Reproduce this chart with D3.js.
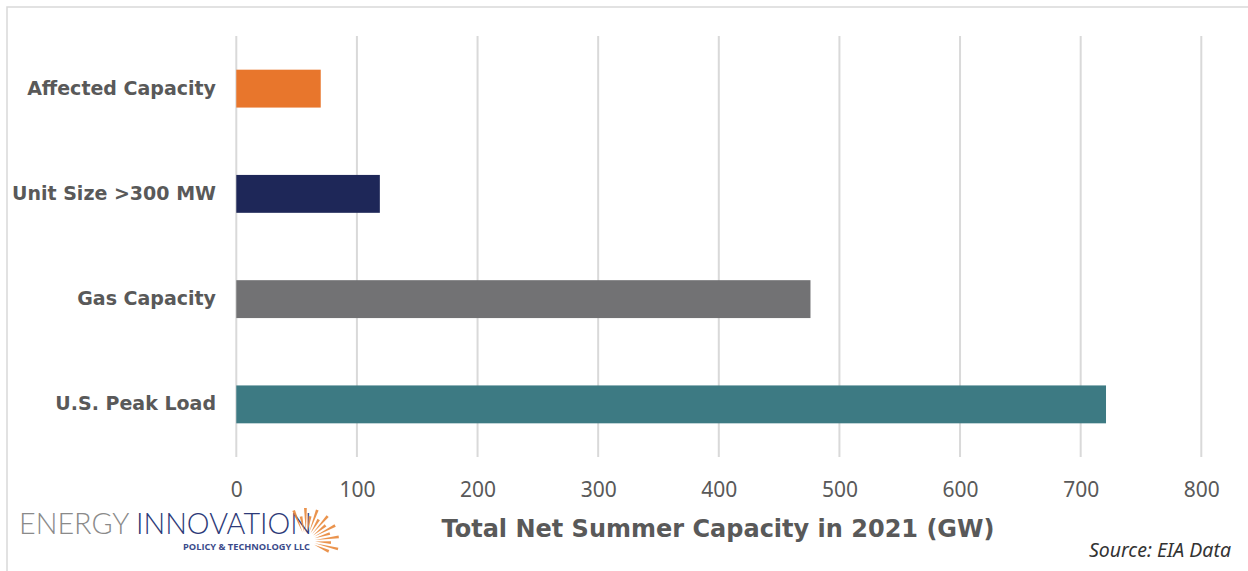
<!DOCTYPE html>
<html><head><meta charset="utf-8">
<script src="https://cdn.jsdelivr.net/npm/d3@7"></script>
<style>body{margin:0;background:#fff}svg{display:block}</style>
</head><body>
<script>
const categories = ["Affected Capacity","Unit Size >300 MW","Gas Capacity","U.S. Peak Load"];
const values = [70, 119, 476, 721];
const colors = ["#E8762C","#1E2758","#727274","#3D7A83"];
const ticks = [0,100,200,300,400,500,600,700,800];
const axisTitle = "Total Net Summer Capacity in 2021 (GW)";
const source = "Source: EIA Data";

const W=1248,H=571;
const svg=d3.select("body").append("svg").attr("width",W).attr("height",H);
svg.append("rect").attr("x",7).attr("y",7).attr("width",W+10).attr("height",H+10)
  .attr("fill","#fff").attr("stroke","#d9d9d9").attr("stroke-width",1.5);

const x=d3.scaleLinear().domain([0,800]).range([236.3,1201.3]);
const y=d3.scaleBand().domain(categories).range([36,457]).paddingInner(0.64).paddingOuter(0.32);

const grid=svg.append("g");
grid.selectAll("line").data(ticks).join("line")
  .attr("x1",d=>x(d)).attr("x2",d=>x(d)).attr("y1",36).attr("y2",457)
  .attr("stroke","#d9d9d9").attr("stroke-width",2);

svg.append("g").selectAll("rect").data(categories).join("rect")
  .attr("x",x(0)).attr("y",d=>y(d)).attr("height",y.bandwidth())
  .attr("width",(d,i)=>x(values[i])-x(0)).attr("fill",(d,i)=>colors[i]);

const xa=svg.append("g").attr("transform","translate(0,457)")
  .call(d3.axisBottom(x).tickValues(ticks).tickSize(0).tickPadding(25));
xa.select(".domain").remove();
xa.selectAll("text").attr("font-family","'Noto Sans',sans-serif").attr("font-size",21)
  .attr("fill","#595959");

const ya=svg.append("g").attr("transform","translate(216,0)")
  .call(d3.axisLeft(y).tickSize(0).tickPadding(0));
ya.select(".domain").remove();
ya.selectAll("text").attr("font-family","'DejaVu Sans',sans-serif").attr("font-weight","bold")
  .attr("font-size",19).attr("fill","#595959");

svg.append("text").attr("x",718).attr("y",537).attr("text-anchor","middle")
  .attr("font-family","'DejaVu Sans',sans-serif").attr("font-weight","bold").attr("font-size",24)
  .attr("fill","#595959").text(axisTitle);

svg.append("text").attr("x",1231).attr("y",557).attr("text-anchor","end")
  .attr("font-family","'Noto Sans',sans-serif").attr("font-style","italic").attr("font-size",19.5)
  .attr("fill","#333").text(source);

// logo
const logo=svg.append("g");
const t=logo.append("text").attr("x",19).attr("y",534).attr("font-family","Lato,sans-serif")
  .attr("font-weight",300).attr("font-size",29.5).attr("textLength",293).attr("lengthAdjust","spacingAndGlyphs");
t.append("tspan").attr("fill","#8a8a8a").text("ENERGY ");
t.append("tspan").attr("fill","#2d3a78").text("INNOVATION");
logo.append("text").attr("x",183).attr("y",550).attr("font-family","'Open Sans',sans-serif")
  .attr("font-weight","bold").attr("font-size",8.5).attr("fill","#3a4a8a")
  .attr("textLength",127).attr("lengthAdjust","spacingAndGlyphs").text("POLICY & TECHNOLOGY LLC");
const cx=306,cy=541;
const rays=d3.range(-112,25,10.5);
logo.selectAll("path.ray").data(rays).join("path").attr("class","ray")
  .attr("d",(a,i)=>{const r0=9,r1=(i%2?25:33);const A=a*Math.PI/180,w=1.4;
    const px=Math.cos(A+Math.PI/2),py=Math.sin(A+Math.PI/2);
    const x0=cx+r0*Math.cos(A),y0=cy+r0*Math.sin(A),x1=cx+r1*Math.cos(A),y1=cy+r1*Math.sin(A);
    return `M${x0},${y0}L${x1+px*w},${y1+py*w}L${x1-px*w},${y1-py*w}Z`;})
  .attr("fill","#E8873A").attr("opacity",0.9);
</script>
</body></html>
